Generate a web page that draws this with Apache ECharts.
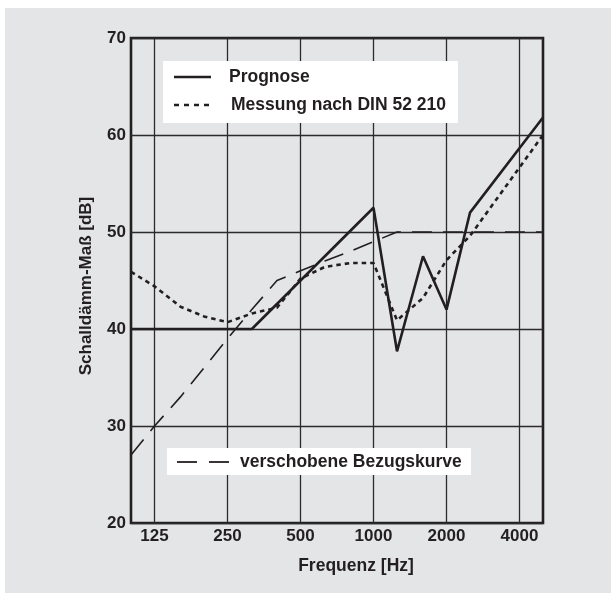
<!DOCTYPE html>
<html>
<head>
<meta charset="utf-8">
<script src="https://cdn.jsdelivr.net/npm/echarts@6/dist/echarts.min.js"></script>
<style>
html,body{margin:0;padding:0;background:#ffffff;}
#bg{position:absolute;left:5px;top:8px;right:0;bottom:0;background:#e4e5e7;}
#chart{position:absolute;left:0;top:0;width:611px;height:593px;}
</style>
</head>
<body>
<div id="bg"></div>
<div id="chart"></div>
<script>
// Frequency tick labels (Hz)
const freqTicks = [125, 250, 500, 1000, 2000, 4000];
const freqMin = 100, freqMax = 5000;
// Prognose (solid)
const prognoseFreq = [100, 315, 1000, 1250, 1600, 2000, 2500, 5000];
const prognoseVal  = [40, 40, 52.5, 37.7, 47.5, 42.0, 52.0, 61.8];
// Messung nach DIN 52 210 (dotted)
const messungFreq = [100, 125, 160, 200, 250, 315, 400, 500, 630, 800, 1000, 1250, 1600, 2000, 2500, 5000];
const messungVal  = [45.9, 44.4, 42.3, 41.3, 40.7, 41.6, 42.2, 45.2, 46.4, 46.8, 46.8, 40.9, 43.2, 47.1, 49.6, 60.0];
// verschobene Bezugskurve (long dashes)
const bezugFreq = [100, 125, 160, 200, 250, 315, 400, 500, 630, 800, 1000, 1250, 1600, 2000, 2500, 3150, 5000];
const bezugVal  = [27, 30, 33, 36, 39, 42, 45, 46, 47, 48, 49, 50, 50, 50, 50, 50, 50];

const yMin = 20, yMax = 70, yStep = 10;
const ink = '#231f20';
const FONT = '"Liberation Sans", Arial, Helvetica, sans-serif';

function oct(f) { return Math.log2(f / 125); }
function pairs(fs, vs) { return fs.map((f, i) => [oct(f), vs[i]]); }

const chart = echarts.init(document.getElementById('chart'), null, {renderer: 'canvas'});
chart.setOption({
  backgroundColor: 'transparent',
  animation: false,
  grid: {
    left: 131, right: 68, top: 38, bottom: 70,
    show: true, borderColor: ink, borderWidth: 2.6, backgroundColor: 'transparent'
  },
  xAxis: {
    type: 'value',
    min: oct(freqMin), max: oct(freqMax),
    axisLine: {show: false},
    axisTick: {show: false, customValues: freqTicks.map(oct)},
    axisLabel: {
      customValues: freqTicks.map(oct),
      formatter: v => String(Math.round(125 * Math.pow(2, v))),
      color: ink, fontFamily: FONT, fontWeight: 'bold', fontSize: 17, margin: 5
    },
    splitLine: {show: true, lineStyle: {color: '#2b2b2b', width: 1.3}}
  },
  yAxis: {
    type: 'value',
    min: yMin, max: yMax, interval: yStep,
    axisLine: {show: false},
    axisTick: {show: false},
    axisLabel: {color: ink, fontFamily: FONT, fontWeight: 'bold', fontSize: 17, margin: 5},
    splitLine: {show: true, lineStyle: {color: '#2b2b2b', width: 1.3}}
  },
  series: [
    {
      name: 'verschobene Bezugskurve', type: 'line', symbol: 'none', z: 3,
      data: pairs(bezugFreq, bezugVal),
      lineStyle: {color: ink, width: 1.6, type: [20, 11]}
    },
    {
      name: 'Messung nach DIN 52 210', type: 'line', symbol: 'none', z: 4,
      data: pairs(messungFreq, messungVal),
      lineStyle: {color: ink, width: 2.6, type: [4.5, 4]}
    },
    {
      name: 'Prognose', type: 'line', symbol: 'none', z: 5,
      data: pairs(prognoseFreq, prognoseVal),
      lineStyle: {color: ink, width: 2.6}
    }
  ],
  graphic: [
    {type: 'rect', z: 100, shape: {x: 163, y: 61, width: 295, height: 62}, style: {fill: '#ffffff'}},
    {type: 'line', z: 101, shape: {x1: 174, y1: 77, x2: 211, y2: 77}, style: {stroke: ink, lineWidth: 2.6}},
    {type: 'text', z: 101, x: 229, y: 77, style: {text: 'Prognose', fill: ink, font: 'bold 17.5px ' + FONT, textVerticalAlign: 'middle'}},
    {type: 'line', z: 101, shape: {x1: 174, y1: 105, x2: 211, y2: 105}, style: {stroke: ink, lineWidth: 2.6, lineDash: [5, 5]}},
    {type: 'text', z: 101, x: 231, y: 105, style: {text: 'Messung nach DIN 52 210', fill: ink, font: 'bold 17.5px ' + FONT, textVerticalAlign: 'middle'}},

    {type: 'rect', z: 100, shape: {x: 167, y: 448, width: 304, height: 27}, style: {fill: '#ffffff'}},
    {type: 'line', z: 101, shape: {x1: 177, y1: 462, x2: 197, y2: 462}, style: {stroke: ink, lineWidth: 1.8}},
    {type: 'line', z: 101, shape: {x1: 209, y1: 462, x2: 229, y2: 462}, style: {stroke: ink, lineWidth: 1.8}},
    {type: 'text', z: 101, x: 240, y: 462, style: {text: 'verschobene Bezugskurve', fill: ink, font: 'bold 17.5px ' + FONT, textVerticalAlign: 'middle'}},

    {type: 'text', z: 101, x: 356, y: 566, style: {text: 'Frequenz [Hz]', fill: ink, font: 'bold 17.5px ' + FONT, textAlign: 'center', textVerticalAlign: 'middle'}},
    {type: 'text', z: 101, x: 86, y: 286, rotation: Math.PI / 2, style: {text: 'Schalldämm-Maß [dB]', fill: ink, font: 'bold 17px ' + FONT, textAlign: 'center', textVerticalAlign: 'middle'}}
  ]
});
</script>
</body>
</html>
